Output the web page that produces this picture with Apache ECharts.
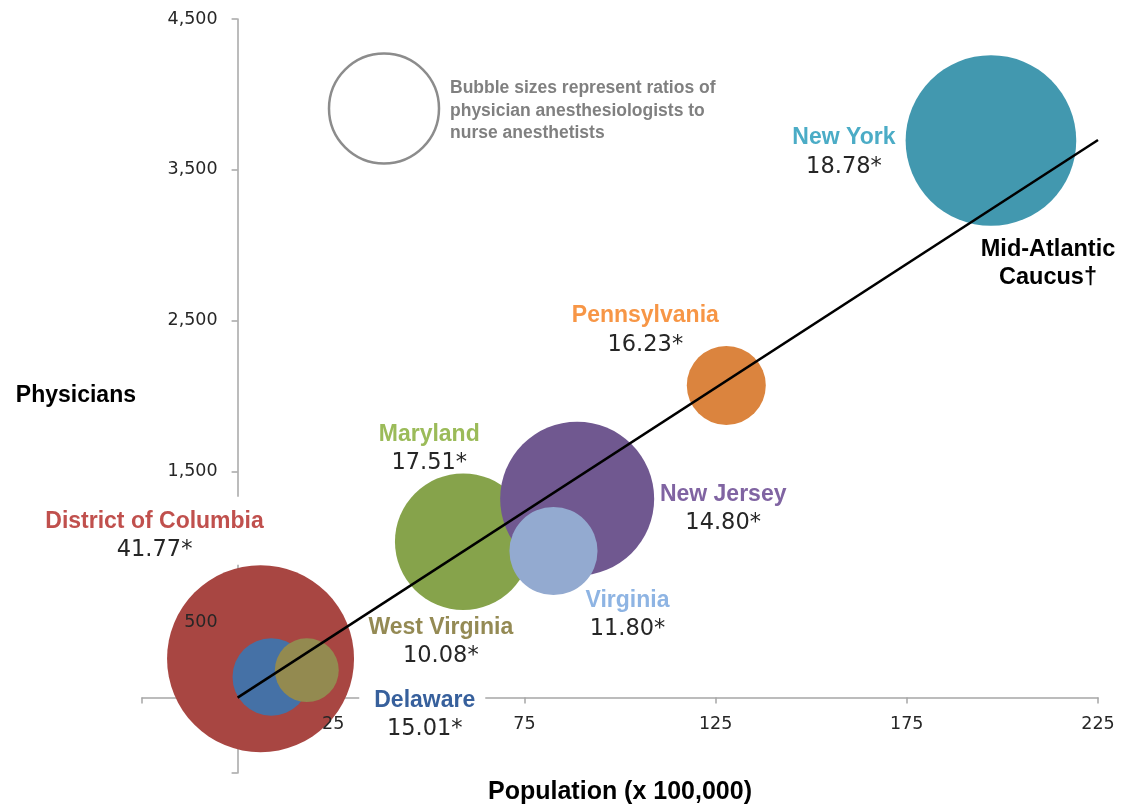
<!DOCTYPE html>
<html>
<head>
<meta charset="utf-8">
<script src="https://cdn.jsdelivr.net/npm/echarts@6/dist/echarts.min.js"></script>
<style>
  html, body { margin: 0; padding: 0; background: #fff; }
  #chart { width: 1122px; height: 807px; }
</style>
</head>
<body>
<div id="chart"></div>
<script>
// Mid-Atlantic states: population (x 100,000) vs. physician anesthesiologists
const states = ['District of Columbia', 'Delaware', 'West Virginia', 'Maryland',
                'New Jersey', 'Virginia', 'Pennsylvania', 'New York'];
const population = [6.0, 8.8, 18.1, 59.0, 88.8, 82.6, 127.8, 197.0];
const physicians = [258, 137, 182, 1034, 1319, 972, 2070, 3694];
// ratio of physician anesthesiologists to nurse anesthetists (label text)
const ratios = ['41.77', '15.01', '10.08', '17.51', '14.80', '11.80', '16.23', '18.78'];
// relative bubble area
const bubbleWeight = [87.4, 15.0, 10.2, 46.6, 59.3, 19.4, 15.6, 72.8];

// caucus trend line
const trendX = [0, 225];
const trendY = [0, 3698];
const trendName = ['Mid-Atlantic', 'Caucus\u2020'];

const xTicks = { min: -25, max: 225, interval: 50 };
const yTicks = { min: -500, max: 4500, interval: 1000 };

// styling
const bubbleColors = ['#A84642', '#4571A6', '#938A50', '#86A34B', '#705890', '#93AAD0', '#DB843E', '#4298AF'];
const nameColors = ['#C0504D', '#37609C', '#948A54', '#9BBB59', '#8064A2', '#8EB4E3', '#F79646', '#4BACC6'];
// label block centre relative to bubble centre (px)
const labelOffsets = [[-106, -128], [151, 38], [134, -28], [-34, -93], [146, 10], [74, 64], [-81, -55], [-147, 12]];
// white boxes only where a label sits over an axis line
const labelBoxes = [[10, 10, 0, 10], [3, 10, 3, 15], null, null, null, null, null, null];

const NAME_FONT = '"Liberation Sans", Arial, sans-serif';
const NUM_FONT = '"DejaVu Sans", Verdana, sans-serif';

const bubbles = states.map((s, i) => ({
  name: s,
  value: [population[i], physicians[i], bubbleWeight[i], ratios[i]],
  itemStyle: { color: bubbleColors[i], opacity: 1 },
  label: {
    offset: labelOffsets[i],
    padding: labelBoxes[i] || 0,
    backgroundColor: labelBoxes[i] ? '#fff' : 'transparent',
    rich: {
      n: { fontFamily: NAME_FONT, fontWeight: 'bold', fontSize: 23, color: nameColors[i], lineHeight: 29, align: 'center' },
      v: { fontFamily: NUM_FONT, fontSize: 22.5, color: '#262626', lineHeight: 29, align: 'center' }
    }
  }
}));

// plot area
const GRID = { left: 142, right: 24, top: 19, bottom: 34 };
const plotW = 1122 - GRID.left - GRID.right;
const plotH = 807 - GRID.top - GRID.bottom;
// tick labels sit on the zero lines: shift the label-only axes inward by the zero position
const yLabelShift = -(0 - xTicks.min) / (xTicks.max - xTicks.min) * plotW;
const xLabelShift = -(0 - yTicks.min) / (yTicks.max - yTicks.min) * plotH;

const axisLineStyle = { color: '#A6A6A6', width: 1.5 };
const gridBox = Object.assign({ outerBoundsMode: 'none', containLabel: false }, GRID);

const chart = echarts.init(document.getElementById('chart'), null, { renderer: 'canvas' });
chart.setOption({
  animation: false,
  backgroundColor: '#fff',
  grid: [Object.assign({}, gridBox), Object.assign({}, gridBox)],
  xAxis: [
    {
      gridIndex: 0, type: 'value', min: xTicks.min, max: xTicks.max, interval: xTicks.interval,
      axisLine: { show: true, onZero: true, lineStyle: axisLineStyle },
      axisTick: { show: true, inside: false, length: 6, lineStyle: axisLineStyle },
      axisLabel: { show: false },
      splitLine: { show: false },
      name: 'Population (x 100,000)', nameLocation: 'middle', nameGap: 7,
      nameTextStyle: { fontFamily: NAME_FONT, fontWeight: 'bold', fontSize: 25, color: '#000' }
    },
    {
      gridIndex: 1, type: 'value', min: xTicks.min, max: xTicks.max, interval: xTicks.interval, z: 5,
      position: 'bottom', offset: xLabelShift,
      axisLine: { show: false, onZero: false },
      axisTick: { show: false },
      splitLine: { show: false },
      axisLabel: {
        margin: 18, fontFamily: NUM_FONT, fontSize: 17.5, color: '#262626',
        formatter: v => (v > 0 ? String(v) : '')
      }
    }
  ],
  yAxis: [
    {
      gridIndex: 0, type: 'value', min: yTicks.min, max: yTicks.max, interval: yTicks.interval,
      axisLine: { show: true, onZero: true, lineStyle: axisLineStyle },
      axisTick: { show: true, inside: false, length: 6, lineStyle: axisLineStyle },
      axisLabel: { show: false },
      splitLine: { show: false },
      name: 'Physicians', nameLocation: 'middle', nameRotate: 0, nameGap: 6,
      nameTextStyle: { fontFamily: NAME_FONT, fontWeight: 'bold', fontSize: 23, color: '#000' }
    },
    {
      gridIndex: 1, type: 'value', min: yTicks.min, max: yTicks.max, interval: yTicks.interval, z: 5,
      position: 'left', offset: yLabelShift,
      axisLine: { show: false, onZero: false },
      axisTick: { show: false },
      splitLine: { show: false },
      axisLabel: {
        margin: 20, fontFamily: NUM_FONT, fontSize: 17.5, color: '#262626',
        formatter: v => (v > 0 ? v.toLocaleString('en-US') : '')
      }
    }
  ],
  series: [
    {
      type: 'scatter',
      xAxisIndex: 0, yAxisIndex: 0,
      z: 2,
      data: bubbles,
      symbol: 'circle',
      symbolSize: d => 20 * Math.sqrt(d[2]),
      itemStyle: { opacity: 1 },
      label: {
        show: true,
        position: 'inside',
        formatter: p => '{n|' + p.name + '}\n{v|' + p.value[3] + '*}'
      },
      emphasis: { disabled: true }
    },
    {
      type: 'line',
      xAxisIndex: 0, yAxisIndex: 0,
      z: 4,
      data: trendX.map((x, i) => [x, trendY[i]]),
      showSymbol: false,
      lineStyle: { color: '#000', width: 2.5 },
      endLabel: {
        show: true,
        distance: 0,
        offset: [-50, 124],
        align: 'center',
        verticalAlign: 'middle',
        formatter: () => trendName.join('\n'),
        fontFamily: NAME_FONT, fontWeight: 'bold', fontSize: 23.5, lineHeight: 28, color: '#000'
      },
      emphasis: { disabled: true }
    }
  ],
  graphic: [
    {
      type: 'circle',
      shape: { cx: 384, cy: 108.5, r: 55 },
      style: { fill: 'none', stroke: '#8C8C8C', lineWidth: 2.5 },
      z: 10
    },
    {
      type: 'text',
      x: 450, y: 77,
      style: {
        text: 'Bubble sizes represent ratios of\nphysician anesthesiologists to\nnurse anesthetists',
        fontFamily: NAME_FONT, fontWeight: 'bold', fontSize: 17.5, lineHeight: 22.5,
        fill: '#808080'
      },
      z: 10
    }
  ]
});
</script>
</body>
</html>
